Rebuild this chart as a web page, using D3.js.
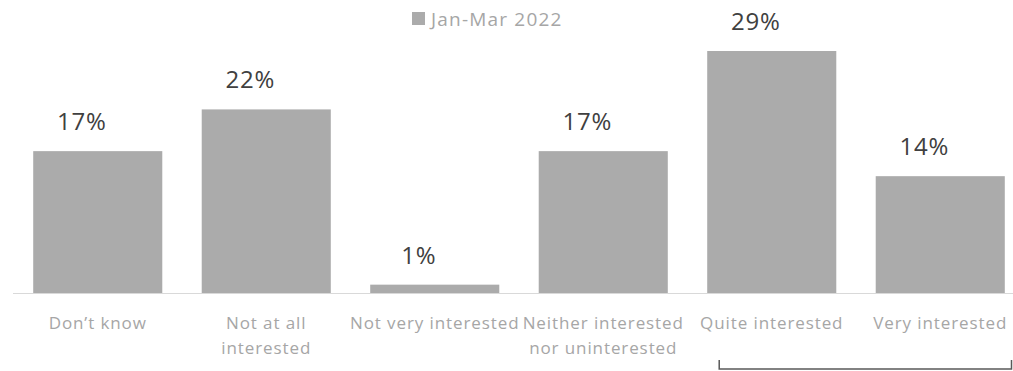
<!DOCTYPE html>
<html>
<head>
<meta charset="utf-8">
<script src="https://cdn.jsdelivr.net/npm/d3@7"></script>
<style>
  html, body { margin: 0; padding: 0; background: #fff; }
  svg { display: block; }
</style>
</head>
<body>
<div id="chart"></div>
<script>
// Interest levels, Jan-Mar 2022
const categories = [
  ["Don\u2019t know"],
  ["Not at all", "interested"],
  ["Not very interested"],
  ["Neither interested", "nor uninterested"],
  ["Quite interested"],
  ["Very interested"]
];
const values = [17, 22, 1, 17, 29, 14];
const seriesName = "Jan-Mar 2022";

const W = 1013, H = 371;
const barColor = "#ababab";
const font = "'Open Sans', 'Liberation Sans', sans-serif";

const svg = d3.select("#chart").append("svg")
  .attr("width", W).attr("height", H);

const x = d3.scaleBand()
  .domain(d3.range(categories.length))
  .range([13.5, 1024.5])
  .paddingInner(0.234)
  .paddingOuter(0.117);

const y = d3.scaleLinear()
  .domain([0, 29])
  .range([293, 51]);

// Bars
svg.append("g").selectAll("rect")
  .data(values)
  .join("rect")
  .attr("x", (d, i) => x(i))
  .attr("width", x.bandwidth())
  .attr("y", d => y(d))
  .attr("height", d => y(0) - y(d))
  .attr("fill", barColor);

// Baseline
svg.append("line")
  .attr("x1", 13).attr("x2", W)
  .attr("y1", y(0) + 0.5).attr("y2", y(0) + 0.5)
  .attr("stroke", "#d9d9d9").attr("stroke-width", 1);

// Value labels
svg.append("g").selectAll("text")
  .data(values)
  .join("text")
  .attr("x", (d, i) => x(i) + x.bandwidth() / 2 - 16)
  .attr("y", d => y(d) - 21)
  .attr("text-anchor", "middle")
  .attr("font-family", font)
  .attr("font-size", 24)
  .attr("letter-spacing", 0.8)
  .attr("fill", "#404040")
  .text(d => d + "%");

// Category labels
const cat = svg.append("g").selectAll("text")
  .data(categories)
  .join("text")
  .attr("text-anchor", "middle")
  .attr("font-family", font)
  .attr("font-size", 17)
  .attr("letter-spacing", 0.9)
  .attr("fill", "#a6a6a6");
cat.selectAll("tspan")
  .data((d, i) => d.map(t => ({ t, i })))
  .join("tspan")
  .attr("x", d => x(d.i) + x.bandwidth() / 2)
  .attr("y", (d, j) => 329 + j * 25)
  .text(d => d.t);

// Legend
svg.append("rect")
  .attr("x", 412).attr("y", 12)
  .attr("width", 13).attr("height", 13)
  .attr("fill", barColor);
svg.append("text")
  .attr("x", 431).attr("y", 26)
  .attr("font-family", font)
  .attr("font-size", 19)
  .attr("letter-spacing", 1.2)
  .attr("fill", "#a6a6a6")
  .text(seriesName);

// Bracket grouping the two "interested" categories
const bx0 = x(4) + 12, bx1 = W - 1.5;
svg.append("path")
  .attr("d", `M${bx0},360 V369 H${bx1} V360`)
  .attr("fill", "none")
  .attr("stroke", "#595959")
  .attr("stroke-width", 1.5);
</script>
</body>
</html>
